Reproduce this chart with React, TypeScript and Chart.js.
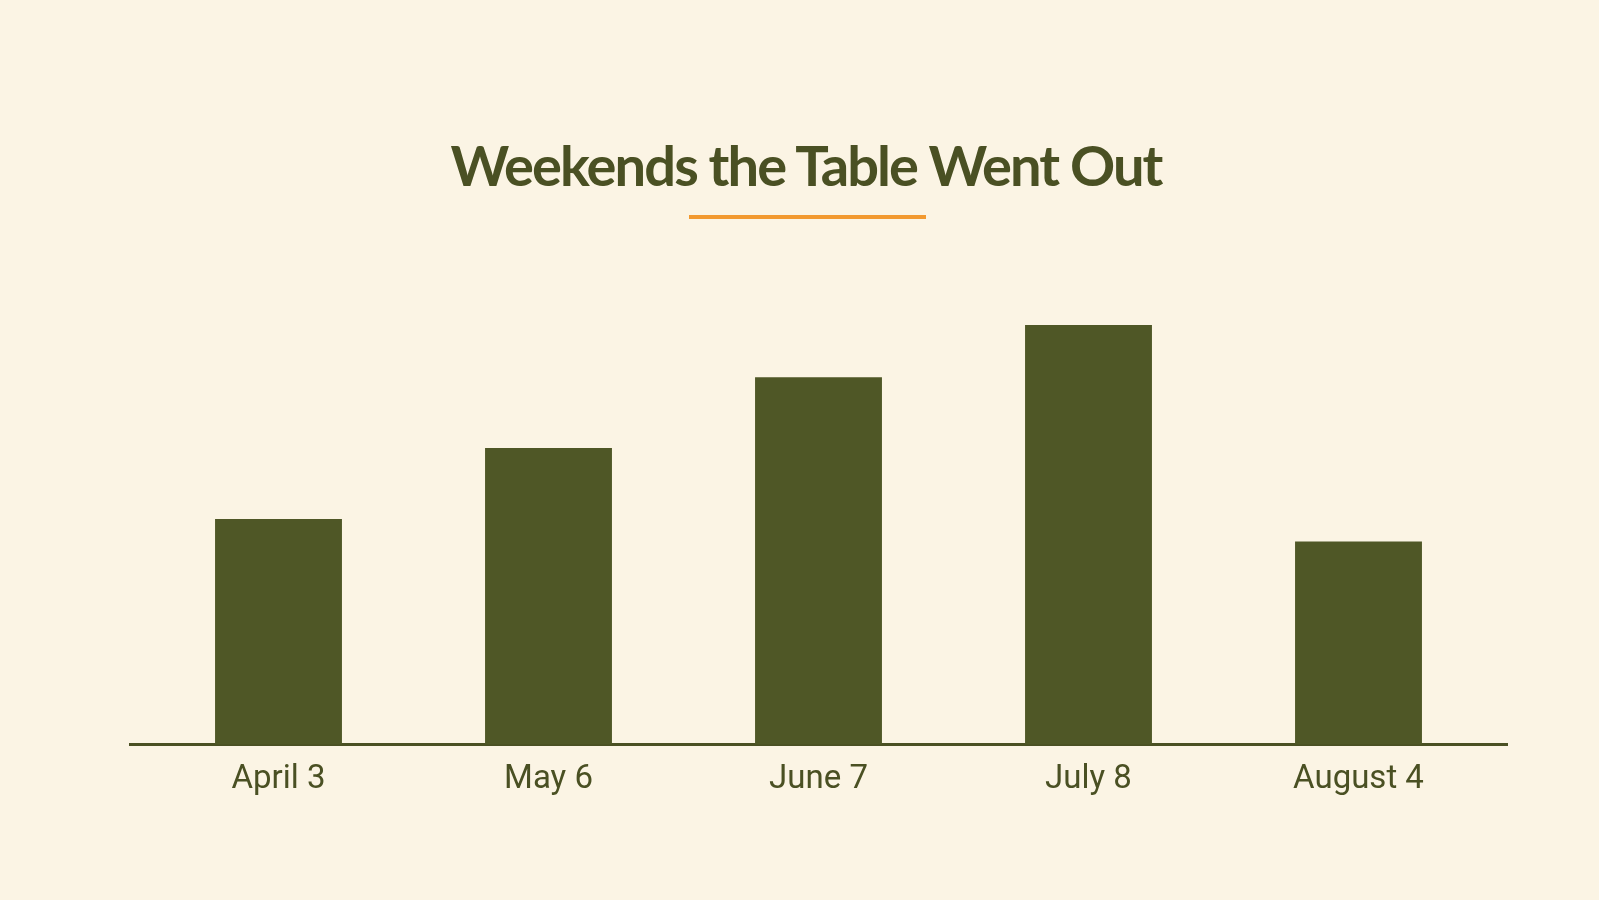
import { useEffect, useRef } from 'react';
import Chart from 'chart.js/auto';

const weekendLabels = ['April 3', 'May 6', 'June 7', 'July 8', 'August 4'];
const timesOut = [4.3, 5.65, 7.0, 8.0, 3.87];

const BG = '#fbf4e4';
const OLIVE = '#4f5726';
const INK = '#4a5023';
const ORANGE = '#f2992f';

export default function App() {
  const canvasRef = useRef<HTMLCanvasElement>(null);
  const chartRef = useRef<Chart | null>(null);

  useEffect(() => {
    document.body.style.margin = '0';
    document.body.style.background = BG;
    if (!canvasRef.current) return;
    const ctx = canvasRef.current.getContext('2d');
    if (!ctx) return;

    if (chartRef.current) chartRef.current.destroy();

    // linear x so the bars sit where the reference puts them along the axis
    const points = timesOut.map((v, i) => ({ x: i, y: v }));

    chartRef.current = new Chart(ctx, {
      type: 'bar',
      data: {
        datasets: [
          {
            label: 'Weekends out',
            data: points,
            backgroundColor: OLIVE,
            borderWidth: 0,
            categoryPercentage: 1,
            barPercentage: 0.47,
          },
        ],
      },
      options: {
        responsive: true,
        maintainAspectRatio: false,
        animation: false,
        layout: {
          padding: { top: 220, left: 130, right: 92, bottom: 92 },
        },
        plugins: {
          legend: { display: false },
          title: { display: false },
          tooltip: { enabled: false },
        },
        scales: {
          y: {
            display: false,
            min: 0,
            max: 10,
          },
          x: {
            type: 'linear',
            min: -0.55,
            max: 4.55,
            offset: false,
            grid: { display: false },
            border: { display: true, color: INK, width: 3 },
            ticks: {
              stepSize: 1,
              includeBounds: false,
              color: INK,
              padding: 8,
              font: { family: 'Roboto', size: 33, weight: 400 },
              callback: (value) => weekendLabels[Number(value)] ?? '',
            },
          },
        },
      },
    });

    return () => {
      if (chartRef.current) {
        chartRef.current.destroy();
        chartRef.current = null;
      }
    };
  }, []);

  return (
    <div style={{ position: 'fixed', inset: 0, width: 1599, height: 900, background: BG }}>
      <div
        style={{
          position: 'absolute',
          top: 129,
          left: 0,
          width: 1612,
          textAlign: 'center',
          fontFamily: 'Lato',
          fontWeight: 700,
          fontSize: 56,
          letterSpacing: -1.9,
          color: INK,
          lineHeight: '72px',
        }}
      >
        Weekends the Table Went Out
      </div>
      <div
        style={{
          position: 'absolute',
          top: 215,
          left: 689,
          width: 237,
          height: 4,
          background: ORANGE,
        }}
      />
      <canvas ref={canvasRef} />
    </div>
  );
}
